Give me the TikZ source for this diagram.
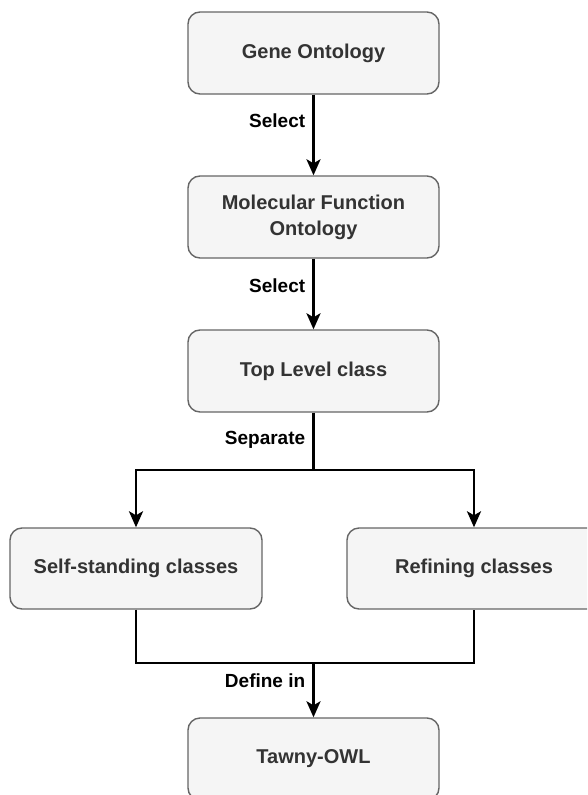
\documentclass[tikz,border=0pt]{standalone}
\usepackage{fontspec}
\setmainfont{Liberation Sans}
\usetikzlibrary{arrows.meta}
\definecolor{boxfill}{RGB}{245,245,245}
\definecolor{boxline}{RGB}{102,102,102}
\definecolor{boxtext}{RGB}{51,51,51}
\tikzset{
  stepbox/.style={draw=boxline, fill=boxfill, line width=1.4pt, rounded corners=12pt,
    minimum width=251pt, minimum height=82pt, text=boxtext, align=center,
    font=\bfseries\fontsize{20}{26}\selectfont, inner sep=0pt},
  conn/.style={line width=2.6pt, black},
  arr/.style={conn, -{Stealth[length=16pt,width=14pt,inset=4pt]}},
  lbl/.style={font=\bfseries\fontsize{19}{22}\selectfont, text=black, inner sep=0pt, anchor=east, xshift=-7pt}
}
\begin{document}
\begin{tikzpicture}[x=1pt,y=-1pt]
\clip (0,0) rectangle (587,795);
\fill[white] (0,0) rectangle (587,795);
\node[stepbox] (go) at (313.5,53) {Gene Ontology};
\node[stepbox] (mf) at (313.5,217) {Molecular Function\\Ontology};
\node[stepbox] (top) at (313.5,371) {Top Level class};
\node[stepbox, minimum width=252pt, minimum height=81pt] (self) at (136,568.5) {Self-standing classes};
\node[stepbox, minimum width=254pt, minimum height=81pt] (ref) at (474,568.5) {Refining classes};
\node[stepbox] (tawny) at (313.5,759) {Tawny-OWL};
\coordinate (split) at (313.5,470);
\coordinate (join) at (313.5,663);
\draw[arr] (go) -- node[lbl, pos=0.32] {Select} (mf);
\draw[arr] (mf) -- node[lbl, pos=0.38] {Select} (top);
\draw[conn] (top) -- node[lbl, pos=0.48] {Separate} (split);
\draw[arr] (split) -| (self);
\draw[arr] (split) -| (ref);
\draw[conn] (self.south) |- (join) -| (ref.south);
\draw[arr] (join) -- node[lbl, pos=0.33] {Define in} (tawny);
\end{tikzpicture}
\end{document}
